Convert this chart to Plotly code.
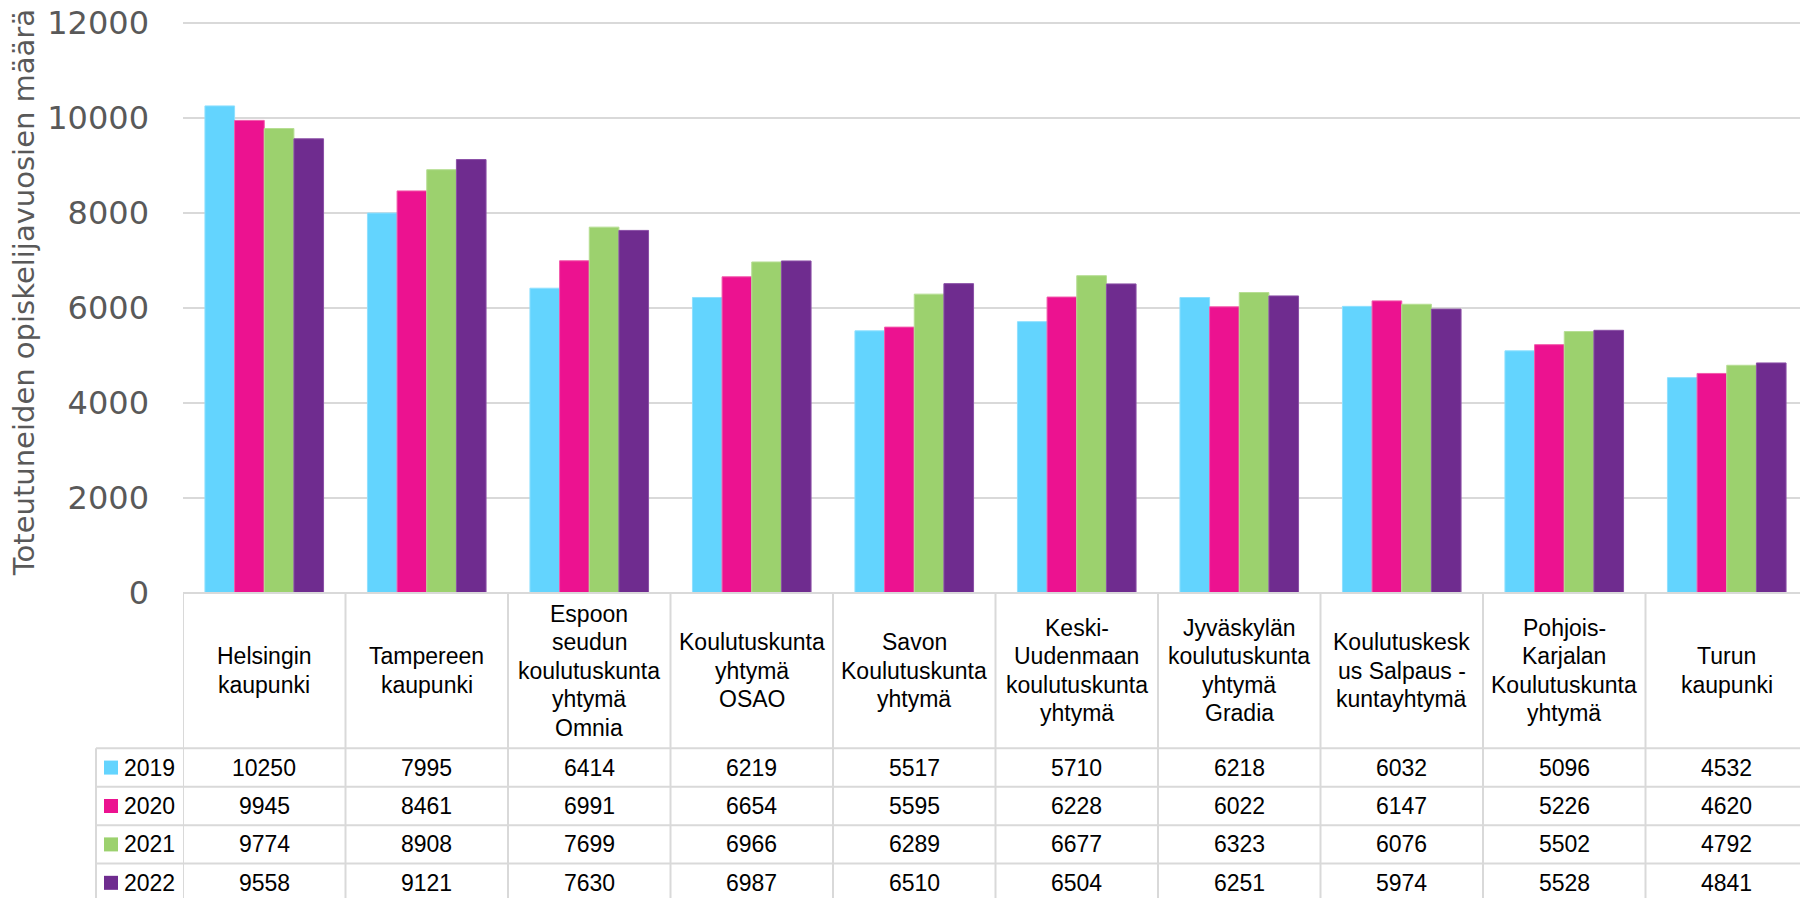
import plotly.graph_objects as go

categories = ["Helsingin kaupunki", "Tampereen kaupunki",
              "Espoon seudun koulutuskuntayhtymä Omnia",
              "Koulutuskuntayhtymä OSAO", "Savon Koulutuskuntayhtymä",
              "Keski-Uudenmaan koulutuskuntayhtymä",
              "Jyväskylän koulutuskuntayhtymä Gradia",
              "Koulutuskeskus Salpaus -kuntayhtymä",
              "Pohjois-Karjalan Koulutuskuntayhtymä", "Turun kaupunki"]
header_lines = [
    ["Helsingin", "kaupunki"],
    ["Tampereen", "kaupunki"],
    ["Espoon", "seudun", "koulutuskunta", "yhtymä", "Omnia"],
    ["Koulutuskunta", "yhtymä", "OSAO"],
    ["Savon", "Koulutuskunta", "yhtymä"],
    ["Keski-", "Uudenmaan", "koulutuskunta", "yhtymä"],
    ["Jyväskylän", "koulutuskunta", "yhtymä", "Gradia"],
    ["Koulutuskesk", "us Salpaus -", "kuntayhtymä"],
    ["Pohjois-", "Karjalan", "Koulutuskunta", "yhtymä"],
    ["Turun", "kaupunki"],
]
years = ["2019", "2020", "2021", "2022"]
v2019 = [10250, 7995, 6414, 6219, 5517, 5710, 6218, 6032, 5096, 4532]
v2020 = [9945, 8461, 6991, 6654, 5595, 6228, 6022, 6147, 5226, 4620]
v2021 = [9774, 8908, 7699, 6966, 6289, 6677, 6323, 6076, 5502, 4792]
v2022 = [9558, 9121, 7630, 6987, 6510, 6504, 6251, 5974, 5528, 4841]
series = [v2019, v2020, v2021, v2022]
colors = ["#63D4FE", "#EC1290", "#9CD16E", "#6F2C8F"]
edge_colors = ["#8FE0FF", "#F25AAB", "#B6DE93", "#8A4FA6"]
yticks = [0, 2000, 4000, 6000, 8000, 10000, 12000]
ytick_text = ["0", "2000", "4000", "6000", "8000", "10000", "12000"]
y_title = "Toteutuneiden opiskelijavuosien määrä"
YMAX = 12100

# the page body adds an 8px margin; work in screen coordinates and offset
OFF = 8
W, H = 1808 - OFF, 898 - OFF
B = 592.7                      # screen y of value 0
PX_PER_UNIT = 570 / 12000
T = B - YMAX * PX_PER_UNIT     # screen y of plot top
L, R = 183, 1808
PH = B - T
PW = R - L


def py(p):
    return (B - p) / PH


def px(p):
    return (p - L) / PW


fig = go.Figure()
for yr, vals, c, ec in zip(years, series, colors, edge_colors):
    fig.add_trace(go.Bar(x=list(range(len(categories))), y=vals, name=yr,
                         marker=dict(color=c, line=dict(color=ec, width=1)),
                         hovertext=categories, showlegend=False))

grid_col = "#D9D9D9"
shapes = []
shapes.append(dict(type="line", xref="paper", yref="paper", x0=0, x1=1,
                   y0=py(B), y1=py(B), line=dict(color=grid_col, width=2)))
header_bottom = 748
row_h = 38.4
row_lines = [header_bottom + k * row_h for k in range(len(years))]
for yl in row_lines:
    shapes.append(dict(type="line", xref="paper", yref="paper", x0=px(96), x1=1,
                       y0=py(yl), y1=py(yl), line=dict(color=grid_col, width=2)))
shapes.append(dict(type="line", xref="paper", yref="paper", x0=px(96), x1=px(96),
                   y0=py(header_bottom), y1=py(900), line=dict(color=grid_col, width=2)))
for i in range(len(categories)):
    shapes.append(dict(type="line", xref="x", yref="paper", x0=i - 0.5, x1=i - 0.5,
                       y0=py(B), y1=py(900), line=dict(color=grid_col, width=2)))

annotations = []
tfont = dict(family="Liberation Sans, Arial", size=23, color="#000000")
line_sp = 28.4
hc = (B + header_bottom) / 2
for i, lines in enumerate(header_lines):
    n = len(lines)
    for k, t in enumerate(lines):
        yc = hc + (k - (n - 1) / 2) * line_sp
        annotations.append(dict(x=i, xref="x", y=py(yc), yref="paper", text=t,
                                showarrow=False, xanchor="center", yanchor="middle",
                                font=tfont))
for r, (yr, vals, c) in enumerate(zip(years, series, colors)):
    yc = header_bottom + (r + 0.5) * row_h
    shapes.append(dict(type="rect", xref="paper", yref="paper", x0=px(104), x1=px(118),
                       y0=py(yc - 7), y1=py(yc + 7), fillcolor=c, line=dict(width=0)))
    annotations.append(dict(x=px(122), xref="paper", y=py(yc), yref="paper", text=yr,
                            showarrow=False, xanchor="left", yanchor="middle", font=tfont))
    for i, v in enumerate(vals):
        annotations.append(dict(x=i, xref="x", y=py(yc), yref="paper", text=str(v),
                                showarrow=False, xanchor="center", yanchor="middle",
                                font=tfont))
annotations.append(dict(x=px(24), xref="paper", y=py(293), yref="paper", text=y_title,
                        showarrow=False, textangle=-90, xanchor="center", yanchor="middle",
                        font=dict(family="DejaVu Sans", size=29, color="#595959")))

fig.update_layout(
    width=W, height=H,
    margin=dict(l=L - OFF, r=0, t=T - OFF, b=H - (B - OFF), pad=0, autoexpand=False),
    paper_bgcolor="white", plot_bgcolor="white",
    barmode="group", bargap=0.27, bargroupgap=0,
    shapes=shapes, annotations=annotations,
    xaxis=dict(range=[-0.5, len(categories) - 0.5], showticklabels=False,
               showgrid=False, zeroline=False, showline=False, fixedrange=True,
               automargin=False),
    yaxis=dict(range=[0, YMAX], tickvals=yticks, ticktext=ytick_text, showgrid=True,
               gridcolor=grid_col, gridwidth=2, zeroline=False, showline=False,
               ticks="", ticklabelstandoff=33, ticklabeloverflow="allow",
               automargin=False,
               tickfont=dict(family="DejaVu Sans", size=32, color="#595959")),
)
fig.write_html("out.html")
